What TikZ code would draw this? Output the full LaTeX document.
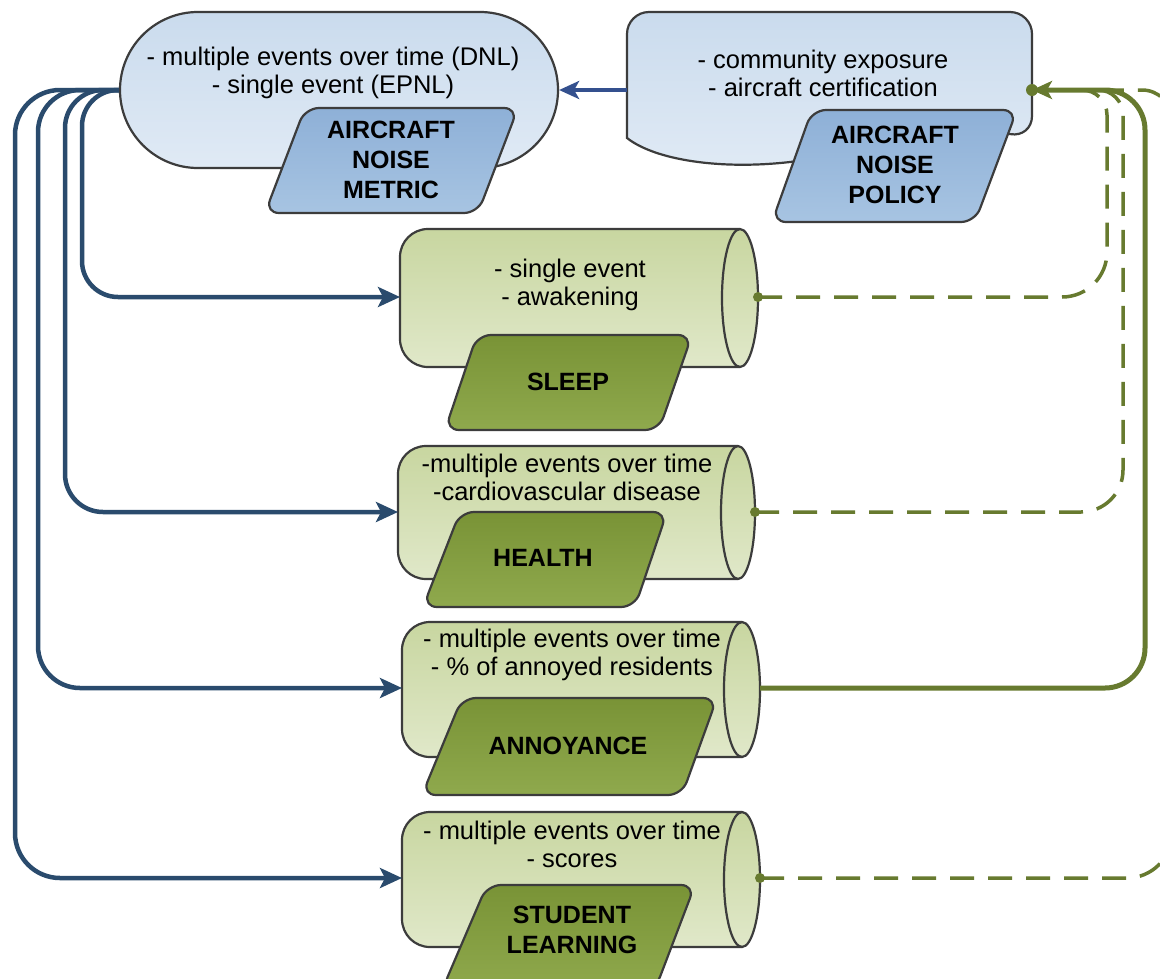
\documentclass[tikz,border=0pt]{standalone}
\usepackage{fontspec}
\setmainfont{Liberation Sans}
\usetikzlibrary{arrows.meta}
\definecolor{edgegray}{HTML}{3C3C3C}
\definecolor{bluetop}{HTML}{CADBED}
\definecolor{bluebot}{HTML}{E0EAF5}
\definecolor{blueparT}{HTML}{8EB0D7}
\definecolor{blueparB}{HTML}{A7C4E2}
\definecolor{greenT}{HTML}{C8D6A0}
\definecolor{greenB}{HTML}{E0E8C9}
\definecolor{gparT}{HTML}{799336}
\definecolor{gparB}{HTML}{8FA94D}
\definecolor{navy}{HTML}{2A4B6D}
\definecolor{arrowblue}{HTML}{34508E}
\definecolor{olive}{HTML}{677A2F}
\newcommand\mycyl[5]{% #1 left x, #2 cap centre x, #3 cap half width, #4 top y, #5 bottom y
  \pgfmathsetmacro\cylM{(#4+#5)/2}%
  \pgfmathsetmacro\cylKy{0.552*(#5-#4)/2}%
  \pgfmathsetmacro\cylKx{0.552*#3}%
  \pgfmathsetmacro\cylXR{#2+#3}%
  \pgfmathsetmacro\cylXL{#2-#3}%
  \pgfmathsetmacro\cylCR{#2+\cylKx}%
  \pgfmathsetmacro\cylCL{#2-\cylKx}%
  \pgfmathsetmacro\cylYU{\cylM-\cylKy}%
  \pgfmathsetmacro\cylYD{\cylM+\cylKy}%
  \pgfmathsetmacro\cylLa{#1+28}%
  \pgfmathsetmacro\cylLb{#1+12.5}%
  \pgfmathsetmacro\cylTa{#4+28}%
  \pgfmathsetmacro\cylTb{#4+12.5}%
  \pgfmathsetmacro\cylBa{#5-28}%
  \pgfmathsetmacro\cylBb{#5-12.5}%
  \path[cylbody] (#2,#4) -- (\cylLa,#4) .. controls (\cylLb,#4) and (#1,\cylTb) .. (#1,\cylTa)
     -- (#1,\cylBa) .. controls (#1,\cylBb) and (\cylLb,#5) .. (\cylLa,#5) -- (#2,#5)
     .. controls (\cylCR,#5) and (\cylXR,\cylYD) .. (\cylXR,\cylM)
     .. controls (\cylXR,\cylYU) and (\cylCR,#4) .. (#2,#4) -- cycle;
  \draw[edgeline] (#2,#4) .. controls (\cylCL,#4) and (\cylXL,\cylYU) .. (\cylXL,\cylM)
     .. controls (\cylXL,\cylYD) and (\cylCL,#5) .. (#2,#5);
}
\begin{document}
\begin{tikzpicture}[x=1pt,y=-1pt,
  edgeline/.style={draw=edgegray, line width=2.2pt},
  bluebox/.style={edgeline, top color=bluetop, bottom color=bluebot},
  bluepar/.style={edgeline, top color=blueparT, bottom color=blueparB, rounded corners=14pt},
  cylbody/.style={edgeline, top color=greenT, bottom color=greenB},
  greenpar/.style={edgeline, top color=gparT, bottom color=gparB, rounded corners=14pt},
  anchorbox/.style={inner sep=0pt, outer sep=0pt},
  bodytext/.style={font=\fontsize{25.5}{28}\selectfont, align=center, inner sep=0pt},
  labeltext/.style={font=\fontsize{25}{30}\selectfont\bfseries, align=center, inner sep=0pt},
  metricflow/.style={draw=navy, line width=4.5pt, -{Stealth[length=22pt,width=20pt,inset=5pt]}},
  policyflow/.style={draw=arrowblue, line width=4pt, -{Stealth[length=20pt,width=18pt,inset=5pt]}},
  greensolid/.style={draw=olive, line width=5pt},
  greendash/.style={draw=olive, line width=3.5pt, dash pattern=on 24pt off 14pt},
  greendot/.style={fill=olive}
]
\useasboundingbox (0,0) rectangle (1160,978);
\fill[white] (0,0) rectangle (1160,978);
\clip (0,0) rectangle (1160,978);

% ---- metric
\node[bluebox, rounded corners=78pt, minimum width=438pt, minimum height=156pt, inner sep=0pt] (metric) at (339,90) {};
\path[bluepar] (305,108) -- (518,108) -- (478,213) -- (265,213) -- cycle;
\node[bodytext] (metrictxt) at (333,73) {- multiple events over time (DNL)\\- single event (EPNL)};
\node[labeltext] (metriclab) at (391,160) {AIRCRAFT\\NOISE\\METRIC};

% ---- policy
\node[anchorbox, minimum width=405pt, minimum height=156pt] (policy) at (829.5,90) {};
\path[bluebox] (627,138) [rounded corners=22pt] -- (627,12) -- (1032,12) -- (1032,138) [sharp corners]
   .. controls (960,125) and (880,150) .. (790,162) .. controls (720,170) and (655,160) .. (627,138) -- cycle;
\path[bluepar] (812,110) -- (1017,110) -- (975,222) -- (772,222) -- cycle;
\node[bodytext] (policytxt) at (823,73) {- community exposure\\- aircraft certification};
\node[labeltext] (policylab) at (895,165) {AIRCRAFT\\NOISE\\POLICY};

% ---- sleep
\node[anchorbox, minimum width=358pt, minimum height=138pt] (sleep) at (579,297) {};
\mycyl{400}{740}{18}{229}{367}
\path[greenpar] (477,335) -- (692,335) -- (659,430) -- (445,430) -- cycle;
\node[bodytext] (sleeptxt) at (570,285) {- single event\\- awakening};
\node[labeltext] (sleeplab) at (568,382) {SLEEP};

% ---- health
\node[anchorbox, minimum width=357pt, minimum height=133pt] (health) at (576.5,512) {};
\mycyl{398}{738}{17}{446}{579}
\path[greenpar] (460,512) -- (667,512) -- (635,607) -- (423,607) -- cycle;
\node[bodytext] (healthtxt) at (567,477) {-multiple events over time\\-cardiovascular disease};
\node[labeltext] (healthlab) at (543,558) {HEALTH};

% ---- annoyance
\node[anchorbox, minimum width=358pt, minimum height=135pt] (annoy) at (581,688) {};
\mycyl{402}{742}{18}{622}{757}
\path[greenpar] (462,698) -- (717,698) -- (682,795) -- (422,795) -- cycle;
\node[bodytext] (annoytxt) at (572,655) {- multiple events over time\\- \% of annoyed residents};
\node[labeltext] (annoylab) at (568,746) {ANNOYANCE};

% ---- student learning
\node[anchorbox, minimum width=358pt, minimum height=135pt] (student) at (581,878) {};
\mycyl{402}{742}{18}{812}{947}
\path[greenpar] (487,885) -- (695,885) -- (655,990) -- (442,990) -- cycle;
\node[bodytext] (studenttxt) at (572,844) {- multiple events over time\\- scores};
\node[labeltext] (studentlab) at (572,930) {STUDENT\\LEARNING};

% ---- blue connectors
\draw[metricflow, rounded corners=45pt] (metric.west) -- (15,90) -- (15,878) -- (student.west);
\draw[metricflow, rounded corners=42pt] (metric.west) -- (38,90) -- (38,688) -- (annoy.west);
\draw[metricflow, rounded corners=38pt] (metric.west) -- (65,90) -- (65,512) -- (health.west);
\draw[metricflow, rounded corners=36pt] (metric.west) -- (82,90) -- (82,297) -- (sleep.west);
\draw[policyflow] (policy.west) -- (metric.east);

% ---- green connectors
\draw[greendash] (student.east) [rounded corners=45pt] -- (1172,878) [rounded corners=30pt] -- (1172,90) -- (policy.east);
\draw[greendash] (health.east) [rounded corners=42pt] -- (1123,512) [rounded corners=25pt] -- (1123,90) -- (policy.east);
\draw[greendash] (sleep.east) [rounded corners=45pt] -- (1107,297) [rounded corners=25pt] -- (1107,90) -- (policy.east);
\draw[greensolid, rounded corners=40pt, -{Stealth[length=20pt,width=18pt,inset=5pt]}] (annoy.east) -- (1145,688) -- (1145,90) -- (policy.east);
\fill[greendot] (sleep.east) circle (5pt);
\fill[greendot] (health.east) circle (5pt);
\fill[greendot] (student.east) circle (5pt);
\fill[greendot] (policy.east) circle (6pt);
\end{tikzpicture}
\end{document}
